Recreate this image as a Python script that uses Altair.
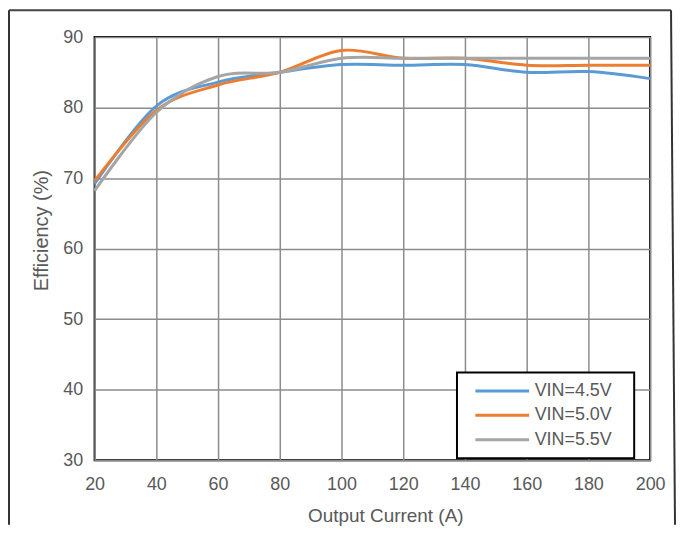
import altair as alt
import pandas as pd

current = [20, 40, 60, 80, 100, 120, 140, 160, 180, 200]
vin45 = [69.2, 80.2, 83.6, 85.0, 86.1, 86.0, 86.1, 85.0, 85.1, 84.1]
vin50 = [69.6, 79.6, 83.2, 85.0, 88.1, 87.0, 87.0, 86.0, 86.0, 86.0]
vin55 = [68.2, 79.3, 84.4, 85.0, 87.0, 87.0, 87.0, 87.0, 87.0, 87.0]
series = ["VIN=4.5V", "VIN=5.0V", "VIN=5.5V"]
colors = ["#5B9BD5", "#ED7D31", "#A5A5A5"]
x_ticks = [20, 40, 60, 80, 100, 120, 140, 160, 180, 200]
y_ticks = [30, 40, 50, 60, 70, 80, 90]

rows = []
for name, vals in zip(series, [vin45, vin50, vin55]):
    for c, v in zip(current, vals):
        rows.append({"current": c, "eff": v, "series": name})
df = pd.DataFrame(rows)

font = "Liberation Sans"

one = pd.DataFrame({"k": [0]})

# legend frame (white box with black border) behind the legend entries
legend_box = alt.Chart(one).mark_rect(fill="white", stroke="black", strokeWidth=2).encode(
    x=alt.value(364), x2=alt.value(542), y=alt.value(337), y2=alt.value(423))

lines = alt.Chart(df).mark_line(interpolate="cardinal", strokeWidth=3).encode(
    x=alt.X("current:Q", scale=alt.Scale(domain=[20, 200], nice=False),
            axis=alt.Axis(values=x_ticks, title="Output Current (A)", grid=True,
                          tickSize=0, labelPadding=15, titlePadding=14,
                          labelFlush=False, domain=False, titleX=292)),
    y=alt.Y("eff:Q", scale=alt.Scale(domain=[30, 90], nice=False),
            axis=alt.Axis(values=y_ticks, title="Efficiency (%)", grid=True,
                          tickSize=0, labelPadding=12, titlePadding=11,
                          labelFlush=False, domain=False, titleY=194,
                          titleFontSize=20)),
    color=alt.Color("series:N", scale=alt.Scale(domain=series, range=colors),
                    legend=alt.Legend(title=None, orient="none", legendX=364, legendY=337,
                                      symbolType="M-2.7,0H2.7", symbolSize=400,
                                      symbolStrokeWidth=3, labelFontSize=18,
                                      symbolOffset=27, labelOffset=21,
                                      padding=7, rowPadding=3.5)),
)

left = alt.Chart(one).mark_rule(color="#333", strokeWidth=2).encode(
    x=alt.value(-86), y=alt.value(-27), y2=alt.value(490))
top = alt.Chart(one).mark_rule(color="#444", strokeWidth=2).encode(
    x=alt.value(-86), x2=alt.value(579), y=alt.value(-27))
right = alt.Chart(one).mark_rule(color="#333", strokeWidth=2).encode(
    x=alt.value(579), x2=alt.value(583), y=alt.value(-27), y2=alt.value(490))

chart = alt.layer(legend_box, lines, left, top, right).properties(
    width=558, height=425,
    autosize=alt.AutoSizeParams(type="none"),
    padding={"left": 87, "top": 28, "right": 26, "bottom": 65},
).configure_view(stroke="black", strokeWidth=2).configure_axis(
    labelFont=font, titleFont=font, labelFontSize=18, titleFontSize=19,
    labelColor="#595959", titleColor="#595959", titleFontWeight="normal",
    gridColor="#8c8c8c", gridWidth=1.5, gridOpacity=1,
).configure_legend(labelFont=font, labelColor="#595959")

chart.save("out.html", embed_options={"renderer": "svg", "actions": False})
